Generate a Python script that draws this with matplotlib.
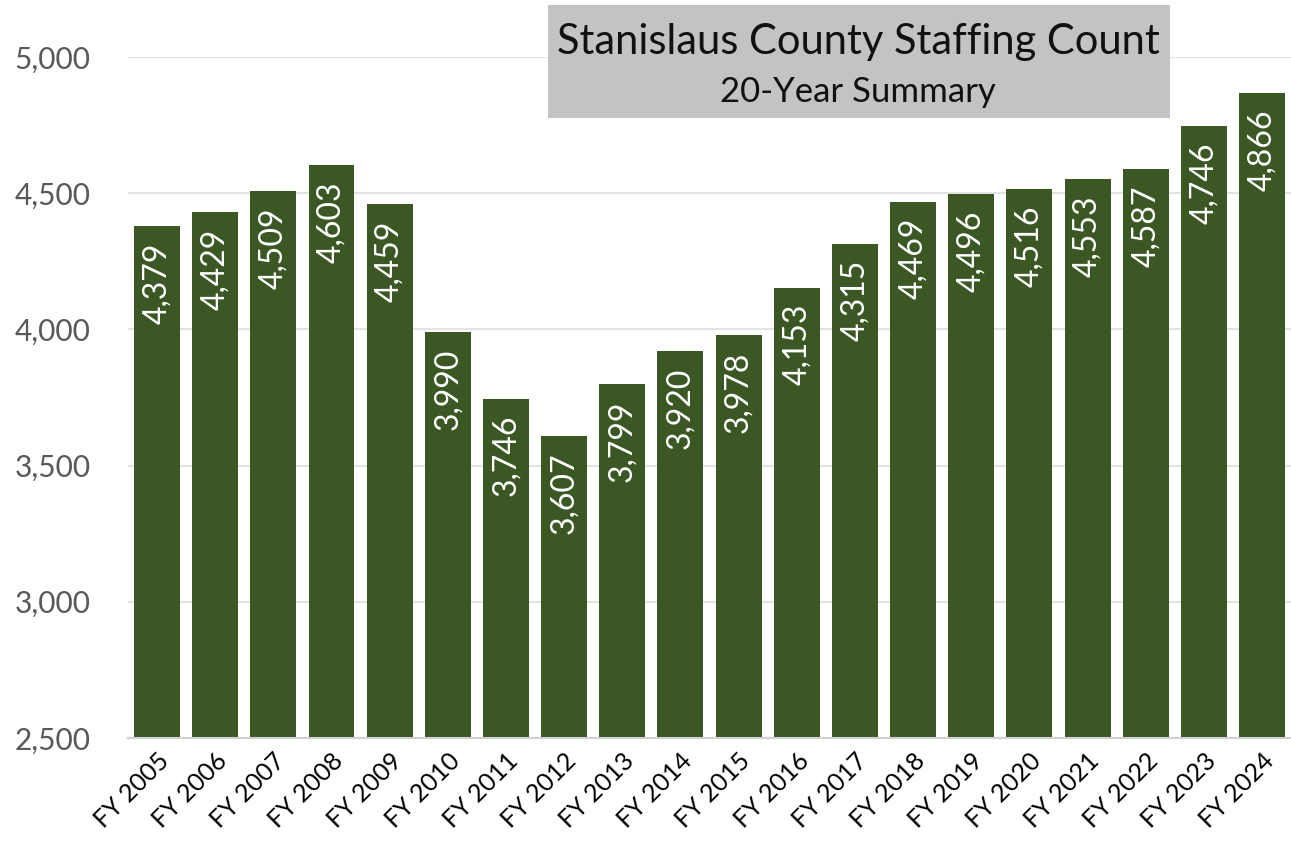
import matplotlib
matplotlib.use("Agg")
import matplotlib.pyplot as plt
from matplotlib.patches import Rectangle

years = ["FY 2005", "FY 2006", "FY 2007", "FY 2008", "FY 2009", "FY 2010", "FY 2011",
         "FY 2012", "FY 2013", "FY 2014", "FY 2015", "FY 2016", "FY 2017", "FY 2018",
         "FY 2019", "FY 2020", "FY 2021", "FY 2022", "FY 2023", "FY 2024"]
counts = [4379, 4429, 4509, 4603, 4459, 3990, 3746, 3607, 3799, 3920, 3978, 4153,
          4315, 4469, 4496, 4516, 4553, 4587, 4746, 4866]
yticks = [2500, 3000, 3500, 4000, 4500, 5000]

plt.rcParams['font.family'] = ['Lato', 'DejaVu Sans']

fig = plt.figure(figsize=(12.91, 8.46), dpi=100)
ax = fig.add_axes([0.0991, 0.1277, 0.901, 0.805])

x = list(range(len(years)))
ax.bar(x, counts, width=0.79, color="#3B5724", zorder=3)
for xi, v in zip(x, counts):
    ax.text(xi, v - 60, f"{v:,}", rotation=90, ha="center", va="top",
            color="white", fontsize=23, zorder=4)

ax.set_ylim(2500, 5000)
ax.set_xlim(-0.5, len(years) - 0.5)
ax.set_yticks(yticks)
ax.set_yticklabels([f"{t:,}" for t in yticks], fontsize=21.5, color="#595959")
ax.set_xticks(x)
ax.set_xticklabels(years, rotation=45, ha="right", rotation_mode="anchor",
                   fontsize=18, color="black")
ax.tick_params(axis="both", length=0)
ax.tick_params(axis="y", pad=27)
ax.tick_params(axis="x", pad=8)
ax.grid(axis="y", color="#E3E3E3", linewidth=1.5, zorder=0)
for s in ["top", "right", "left"]:
    ax.spines[s].set_visible(False)
ax.spines["bottom"].set_color("#D0D0D0")
ax.spines["bottom"].set_linewidth(1.5)
ax.spines["bottom"].set_zorder(5)

# title box
fig.patches.append(Rectangle((548 / 1291, 1 - 118 / 846), (1170 - 548) / 1291, (118 - 5) / 846,
                             transform=fig.transFigure, facecolor="#C3C3C3",
                             edgecolor="none", zorder=10))
fig.text(858 / 1291, 1 - 42 / 846, "Stanislaus County Staffing Count", ha="center",
         va="center", fontsize=30, color="#111111", zorder=11)
fig.text(858 / 1291, 1 - 92 / 846, "20-Year Summary", ha="center", va="center",
         fontsize=25, color="#111111", zorder=11)

fig.savefig("out.png", dpi=100)
